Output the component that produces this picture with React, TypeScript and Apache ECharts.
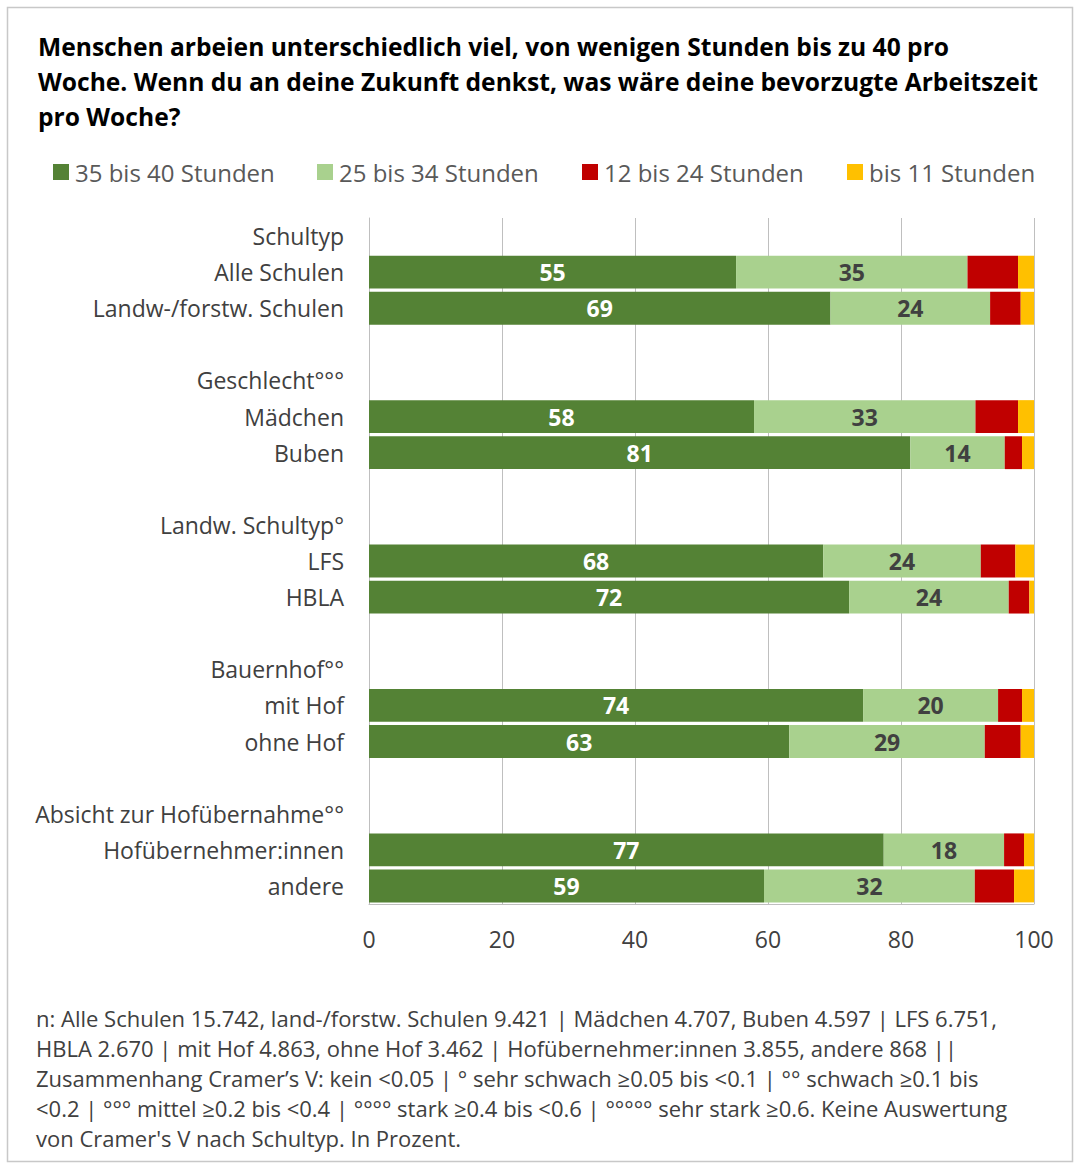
import React, { useEffect, useRef } from "react";
import * as echarts from "echarts";

const categories = [
  "Schultyp",
  "Alle Schulen",
  "Landw-/forstw. Schulen",
  " ",
  "Geschlecht°°°",
  "Mädchen",
  "Buben",
  "  ",
  "Landw. Schultyp°",
  "LFS",
  "HBLA",
  "   ",
  "Bauernhof°°",
  "mit Hof",
  "ohne Hof",
  "    ",
  "Absicht zur Hofübernahme°°",
  "Hofübernehmer:innen",
  "andere",
];

const seriesNames = ["35 bis 40 Stunden", "25 bis 34 Stunden", "12 bis 24 Stunden", "bis 11 Stunden"];

const h35to40 = [null, 55.2, 69.4, null, null, 57.9, 81.4, null, null, 68.3, 72.2, null, null, 74.3, 63.2, null, null, 77.4, 59.4];
const h25to34 = [null, 34.8, 24.0, null, null, 33.3, 14.2, null, null, 23.7, 24.0, null, null, 20.3, 29.4, null, null, 18.1, 31.7];
const h12to24 = [null, 7.6, 4.6, null, null, 6.4, 2.6, null, null, 5.2, 3.1, null, null, 3.6, 5.4, null, null, 3.0, 5.9];
const h0to11 = [null, 2.4, 2.0, null, null, 2.4, 1.8, null, null, 2.8, 0.7, null, null, 1.8, 2.0, null, null, 1.5, 3.0];

const xTicks = [0, 20, 40, 60, 80, 100];

const titleLines = [
  "Menschen arbeien unterschiedlich viel, von wenigen Stunden bis zu 40 pro",
  "Woche. Wenn du an deine Zukunft denkst, was wäre deine bevorzugte Arbeitszeit",
  "pro Woche?",
];

const footLines = [
  "n: Alle Schulen 15.742, land-/forstw. Schulen 9.421 | Mädchen 4.707, Buben 4.597 | LFS 6.751,",
  "HBLA 2.670 | mit Hof 4.863, ohne Hof 3.462 | Hofübernehmer:innen 3.855, andere 868 ||",
  "Zusammenhang Cramer’s V: kein <0.05 | ° sehr schwach ≥0.05 bis <0.1 | °° schwach ≥0.1 bis",
  "<0.2 | °°° mittel ≥0.2 bis <0.4 | °°°° stark ≥0.4 bis <0.6 | °°°°° sehr stark ≥0.6. Keine Auswertung",
  "von Cramer's V nach Schultyp. In Prozent.",
];

const colors = ["#548235", "#A9D18E", "#C00000", "#FFC000"];
const legendLefts = [53, 317, 582, 847];

const FONT = "'Open Sans', sans-serif";

export default function App() {
  const ref = useRef<HTMLDivElement>(null);

  useEffect(() => {
    document.body.style.margin = "0";
    const chart = echarts.init(ref.current!, null, { renderer: "svg" });
    const dataSets = [h35to40, h25to34, h12to24, h0to11];
    const labelCfg = (i: number) => {
      if (i === 0)
        return { show: true, position: "inside", color: "#ffffff", fontWeight: "bold", fontSize: 23, fontFamily: FONT, formatter: (p: any) => String(Math.round(p.value)) };
      if (i === 1)
        return { show: true, position: "inside", color: "#404040", fontWeight: "bold", fontSize: 23, fontFamily: FONT, formatter: (p: any) => String(Math.round(p.value)) };
      return { show: false };
    };
    chart.setOption({
      animation: false,
      backgroundColor: "#ffffff",
      color: colors,
      legend: seriesNames.map((n, i) => ({
        data: [n],
        left: legendLefts[i],
        top: 160,
        icon: "rect",
        itemWidth: 16,
        itemHeight: 16,
        itemGap: 6,
        padding: 0,
        textStyle: { fontSize: 24, color: "#595959", fontFamily: FONT, padding: [0, 0, 0, 1] },
      })),
      grid: { left: 369, right: 46, top: 218, bottom: 264, containLabel: false },
      xAxis: {
        type: "value",
        min: 0,
        max: 100,
        interval: 20,
        axisLine: { show: true, lineStyle: { color: "#bfbfbf", width: 1 } },
        axisTick: { show: false },
        splitLine: { show: true, lineStyle: { color: "#bfbfbf", width: 1 } },
        axisLabel: { fontSize: 23, color: "#404040", margin: 23, fontFamily: FONT, formatter: (v: number) => (xTicks.includes(v) ? String(v) : "") },
      },
      yAxis: {
        type: "category",
        inverse: true,
        data: categories,
        axisLine: { show: true, lineStyle: { color: "#bfbfbf", width: 1 } },
        axisTick: { show: false },
        axisLabel: { fontSize: 23, color: "#404040", margin: 25, fontFamily: FONT },
      },
      series: dataSets.map((d, i) => ({
        name: seriesNames[i],
        type: "bar",
        stack: "total",
        barCategoryGap: "9%",
        data: d.map((v) => (v === null ? "-" : v)),
        label: labelCfg(i),
        itemStyle: { color: colors[i] },
      })),
      graphic: [
        {
          type: "rect",
          shape: { x: 7.5, y: 7.5, width: 1065, height: 1154 },
          style: { fill: "none", stroke: "#c8c8c8", lineWidth: 1.5 },
          silent: true,
        },
        {
          type: "text",
          left: 38,
          top: 29,
          style: {
            text: titleLines.join("\n"),
            fontSize: 24.6,
            fontWeight: "bold",
            fill: "#000000",
            lineHeight: 35,
            fontFamily: FONT,
          },
        },
        {
          type: "text",
          left: 36,
          top: 1003,
          style: {
            text: footLines.join("\n"),
            fontSize: 22,
            fill: "#404040",
            lineHeight: 30,
            fontFamily: FONT,
          },
        },
      ],
    });
    return () => chart.dispose();
  }, []);

  return <div ref={ref} style={{ width: 1080, height: 1168 }} />;
}
